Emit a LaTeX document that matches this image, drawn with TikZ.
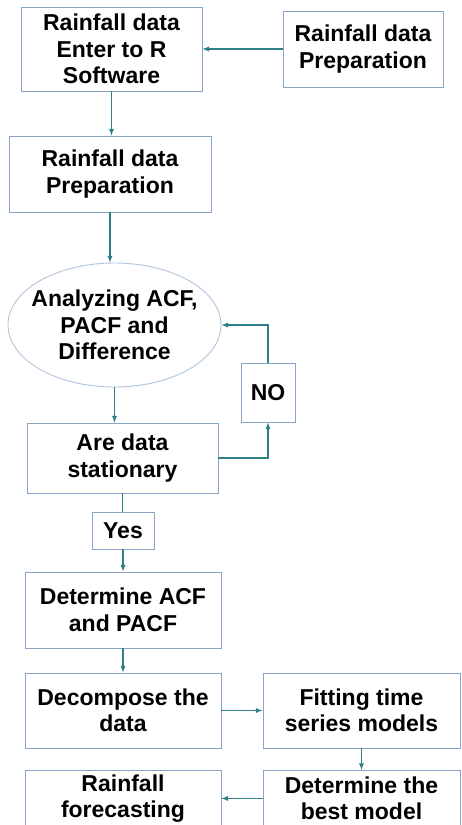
\documentclass[tikz,border=0pt]{standalone}
\usepackage{fontspec}
\setmainfont{Liberation Sans}
\usetikzlibrary{shapes.geometric}
\definecolor{boxline}{RGB}{138,164,200}
\definecolor{ovalline}{RGB}{176,196,222}
\definecolor{arrowline}{RGB}{47,127,134}

\begin{document}
\begin{tikzpicture}[x=1pt,y=-1pt,
box/.style={draw=boxline,line width=0.9pt,align=center,inner sep=2pt,font=\bfseries\fontsize{23}{26.5}\selectfont},
ovalbox/.style={box,draw=ovalline,ellipse,inner xsep=-9pt,inner ysep=0pt},
arr/.style={arrowline,line width=1.3pt,-latex}]
\clip (0,0) rectangle (461,825);
\node[box,minimum width=181pt,minimum height=84pt] (enter) at (111.5,49) {Rainfall data\\Enter to R\\Software};
\node[box,minimum width=160pt,minimum height=76pt] (prepsrc) at (363,49) {Rainfall data\\Preparation};
\node[box,minimum width=202pt,minimum height=76pt] (prep) at (110,174) {Rainfall data\\Preparation};
\node[ovalbox,minimum width=213pt,minimum height=124pt] (analyze) at (114.5,325) {Analyzing ACF,\\PACF and\\Difference};
\node[box,minimum width=191pt,minimum height=70pt] (stat) at (122.5,458) {Are data\\stationary};
\node[box,minimum width=54pt,minimum height=59pt] (no) at (268,392.5) {NO};
\node[box,minimum width=62pt,minimum height=37pt] (yes) at (123,530.5) {Yes};
\node[box,minimum width=196pt,minimum height=76pt] (acf) at (123,610) {Determine ACF\\and PACF};
\node[box,minimum width=196pt,minimum height=75pt] (decomp) at (123,710.5) {Decompose the\\data};
\node[box,minimum width=197pt,minimum height=75pt] (fit) at (361.5,710.5) {Fitting time\\series models};
\node[box,anchor=north,minimum width=197pt,minimum height=56pt] (best) at (361.5,770) {Determine the\\best model};
\node[box,anchor=north,minimum width=196pt,minimum height=56pt] (forecast) at (123,770) {Rainfall\\forecasting};
\draw[arr] (prepsrc.west) -- (enter.east);
\draw[arr] (enter.south) -- (enter.south |- prep.north);
\draw[arr] (prep.south) -- (prep.south |- analyze.north);
\draw[arr] (analyze.south) -- (analyze.south |- stat.north);
\draw[arr] (stat.east) -| (no.south);
\draw[arr] (no.north) |- (analyze.east);
\draw[arrowline,line width=1.3pt] (stat.south) -- (stat.south |- yes.north);
\draw[arr] (yes.south) -- (yes.south |- acf.north);
\draw[arr] (acf.south) -- (decomp.north);
\draw[arr] (decomp.east) -- (fit.west);
\draw[arr] (fit.south) -- (best.north);
\draw[arr] (best.west) -- (best.west -| forecast.east);
\end{tikzpicture}
\end{document}
